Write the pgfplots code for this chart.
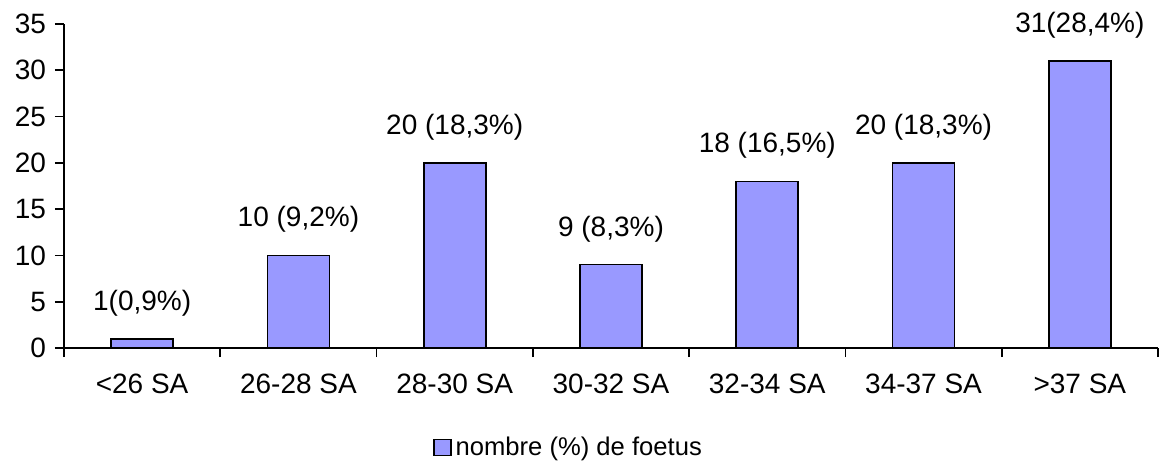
\documentclass[border=0pt]{standalone}
\usepackage{fontspec}
\setmainfont{Liberation Sans}
\usepackage{pgfplots}
\pgfplotsset{compat=1.18}
\definecolor{barfill}{HTML}{9999FF}
\begin{document}
\begin{tikzpicture}
\path[use as bounding box] (-32pt,-56.5pt) rectangle (548.5pt,174pt);
\begin{axis}[
  at={(0,0)}, anchor=south west,
  scale only axis, width=547pt, height=162pt,
  xmin=-0.5, xmax=6.5, ymin=0, ymax=35,
  axis x line*=bottom, axis y line*=left,
  axis line style={-, line width=0.8pt},
  xtick={-0.5,0.5,1.5,2.5,3.5,4.5,5.5,6.5},
  xticklabels={<26 SA,26-28 SA,28-30 SA,30-32 SA,32-34 SA,34-37 SA,>37 SA},
  x tick label as interval,
  ytick={0,5,...,35},
  tick align=outside, major tick length=4.5pt,
  tick style={black, line width=0.8pt},
  /pgf/number format/assume math mode=true,
  tick label style={font=\fontsize{14}{16}\selectfont},
  xticklabel style={yshift=-5pt},
  yticklabel style={xshift=-1pt},
  ybar, bar width=31pt,
  point meta=explicit symbolic,
  nodes near coords,
  every node near coord/.append style={font=\fontsize{14}{16}\selectfont, anchor=south, inner sep=0pt, yshift=11pt},
  legend style={draw=none, at={(0.462,-0.309)}, anchor=center, font=\fontsize{12.8}{15}\selectfont, inner sep=0pt},
  legend image code/.code={\draw[#1, bar shift=0pt] (0.05cm,-0.13cm) rectangle (0.35cm,0.15cm);},
]
\addplot[fill=barfill, draw=black, line width=0.8pt] coordinates {
  (0,1) [1(0,9\%)]
  (1,10) [10 (9,2\%)]
  (2,20) [20 (18,3\%)]
  (3,9) [9 (8,3\%)]
  (4,18) [18 (16,5\%)]
  (5,20) [20 (18,3\%)]
  (6,31) [31(28,4\%)]
};
\addlegendentry{nombre (\%) de foetus}
\end{axis}
\end{tikzpicture}
\end{document}
